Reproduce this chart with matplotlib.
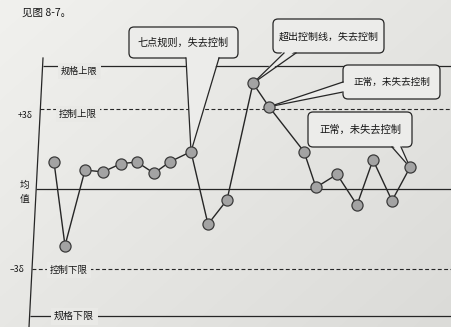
import numpy as np
import matplotlib
matplotlib.use("Agg")
import matplotlib.pyplot as plt
from matplotlib.patches import FancyBboxPatch, Polygon
from matplotlib.lines import Line2D
from matplotlib.transforms import Affine2D

plt.rcParams['font.family'] = ['Noto Sans CJK SC', 'DejaVu Sans']

# Subgroup positions along the time axis and their values (in sigma units from the mean)
sample_time = [5.4, 6.5, 8.5, 10.3, 12.1, 13.7, 15.4, 17.0, 19.1, 20.8,
               22.7, 25.3, 26.9, 30.4, 31.6, 33.7, 35.7, 37.3, 39.2, 41.0]
sample_sigma = [1.01, -2.12, 0.71, 0.64, 0.95, 1.01, 0.59, 1.02, 1.40, -1.32,
                -0.41, 3.96, 3.08, 1.40, 0.06, 0.55, -0.60, 1.09, -0.44, 0.81]

mean_level = 0.0
control_upper, control_lower = 3.0, -3.0
spec_upper, spec_lower = 4.6, -4.75

limit_labels = ["规格上限", "控制上限", "控制下限", "规格下限"]
sigma_labels = ["+3δ", "–3δ"]
mean_chars = ["均", "值"]
figure_ref = "见图 8-7。"
callout_texts = ["七点规则，失去控制", "超出控制线，失去控制",
                 "正常，未失去控制", "正常，未失去控制"]
callout_points = [8, 11, 12, 19]

W, H = 452, 327
INK = "#262626"
TEXT = "#161616"
PAPER = "#e9e9e6"

fig = plt.figure(figsize=(W / 100, H / 100), dpi=100)

# paper background with a soft light falloff
bg = fig.add_axes([0, 0, 1, 1], zorder=-5)
yy, xx = np.mgrid[0:1:200j, 0:1:300j]
shade = 0.55 * xx + 0.45 * yy
top = np.array([241, 241, 238]) / 255
bottom = np.array([219, 219, 216]) / 255
img = top[None, None, :] * (1 - shade[..., None]) + bottom[None, None, :] * shade[..., None]
bg.imshow(img, aspect="auto", extent=(0, 1, 0, 1))
bg.axis("off")

ax = fig.add_axes([0, 0, 1, 1])
ax.set_xlim(0, W / 10)
mean_px, sigma_px = 189.0, 26.7
ax.set_ylim((mean_px - H) / sigma_px, mean_px / sigma_px)
ax.axis("off")
ax.patch.set_alpha(0)

# pixel-style layout transform (origin top-left)
px = Affine2D().scale(1, -1).translate(0, H)


def axis_x_at(level):
    """x (data) of the slanted vertical axis at a given sigma level."""
    py = mean_px - sigma_px * level
    return (43 - (py - 58) * 14 / 269) / 10


# vertical axis
ax.add_line(Line2D([43, 29], [58, H], transform=px, color=INK, lw=0.9, zorder=2))

# limit and centre lines
ax.hlines(spec_upper, axis_x_at(spec_upper), W / 10, color=INK, lw=0.9, zorder=2)
ax.hlines(control_upper, axis_x_at(control_upper), W / 10, color=INK, lw=0.8,
          linestyles=(0, (3.5, 2.2)), zorder=2)
ax.hlines(mean_level, axis_x_at(mean_level), W / 10, color=INK, lw=0.9, zorder=2)
ax.hlines(control_lower, axis_x_at(control_lower), W / 10, color=INK, lw=0.8,
          linestyles=(0, (3.5, 2.2)), zorder=2)
ax.hlines(spec_lower, axis_x_at(spec_lower), W / 10, color=INK, lw=0.9, zorder=2)

mask = dict(boxstyle="square,pad=0.35", fc=PAPER, ec="none")
label_kw = dict(transform=px, color=TEXT, va="center", zorder=3)
ax.text(61, 71, limit_labels[0], fontsize=6.6, ha="left", bbox=mask, **label_kw)
ax.text(59, 114, limit_labels[1], fontsize=6.8, ha="left", bbox=mask, **label_kw)
ax.text(50, 270, limit_labels[2], fontsize=6.8, ha="left", bbox=mask, **label_kw)
ax.text(54, 316, limit_labels[3], fontsize=7.2, ha="left", bbox=mask, **label_kw)
ax.text(18, 115, sigma_labels[0], fontsize=6.3, ha="left", **label_kw)
ax.text(10, 270, sigma_labels[1], fontsize=6.3, ha="left", **label_kw)
ax.text(25, 185, mean_chars[0], fontsize=7, ha="center", **label_kw)
ax.text(25, 199, mean_chars[1], fontsize=7, ha="center", **label_kw)
ax.text(22, 13, figure_ref, fontsize=7.6, ha="left", **label_kw)

# callout bubbles: box (x0, y0, x1, y1), tail base side and span
callout_boxes = [
    ((129, 27, 238, 58), "bottom", (186, 219), 7.3),
    ((273, 19, 384, 53), "bottom", (284, 296), 7.2),
    ((343, 65, 440, 99), "left", (82, 92), 6.9),
    ((308, 112, 412, 147), "bottom", (392, 401), 7.4),
]
BOX_FC = "#ececea"
for (box, side, span, fs), text, idx in zip(callout_boxes, callout_texts, callout_points):
    x0, y0, x1, y1 = box
    ax.add_patch(FancyBboxPatch((x0, y0), x1 - x0, y1 - y0,
                                boxstyle="round,pad=0,rounding_size=5",
                                transform=px, fc=BOX_FC, ec=INK, lw=0.9, zorder=4))
    dx, dy = ax.transData.transform((sample_time[idx], sample_sigma[idx]))
    apex = (dx, H - dy)
    if side == "bottom":
        b1, b2 = (span[0], y1), (span[1], y1)
        i1, i2 = (span[0], y1 - 2.5), (span[1], y1 - 2.5)
    else:
        b1, b2 = (x0, span[0]), (x0, span[1])
        i1, i2 = (x0 + 2.5, span[0]), (x0 + 2.5, span[1])
    ax.add_patch(Polygon([i1, i2, apex], closed=True, transform=px,
                         fc=BOX_FC, ec="none", zorder=5))
    for b in (b1, b2):
        ax.add_line(Line2D([b[0], apex[0]], [b[1], apex[1]], transform=px,
                           color=INK, lw=0.9, zorder=5))
    ax.text((x0 + x1) / 2, (y0 + y1) / 2 + 0.5, text, transform=px, fontsize=fs,
            color=TEXT, ha="center", va="center", zorder=6)

# the sample series
ax.plot(sample_time, sample_sigma, color=INK, lw=1.0, zorder=7)
ax.plot(sample_time, sample_sigma, "o", ms=8, mfc="#a3a3a3", mec="#3a3a3a",
        mew=0.9, zorder=8, ls="none")

fig.savefig("out.png", dpi=100)
